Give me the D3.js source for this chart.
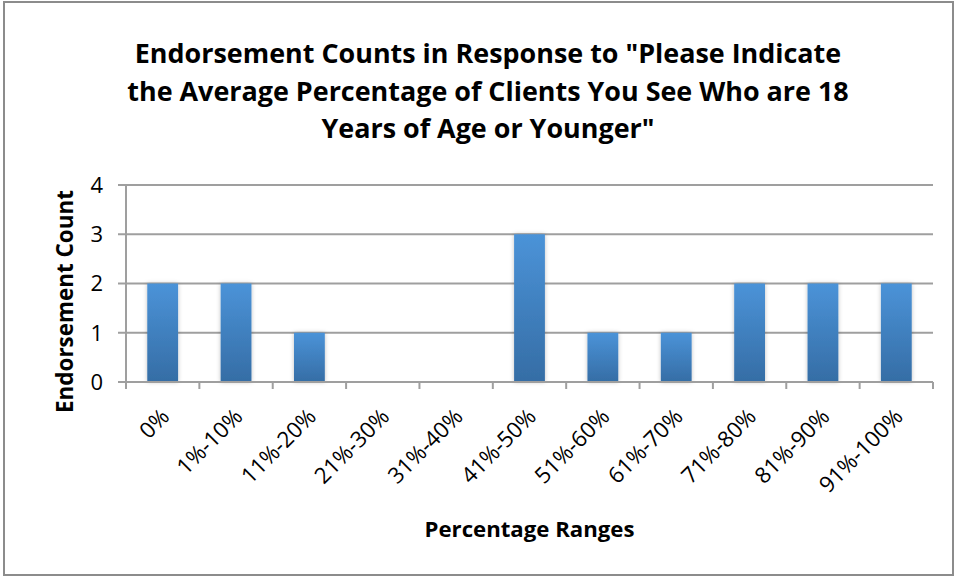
<!DOCTYPE html>
<html>
<head>
<meta charset="utf-8">
<script src="https://cdn.jsdelivr.net/npm/d3@7"></script>
<style>
  body { margin: 0; background: #fff; }
  svg text { font-family: "Open Sans", Lato, sans-serif; fill: #000; }
</style>
</head>
<body>
<svg class="chart" width="956" height="578"></svg>
<script>
var categories = ["0%", "1%-10%", "11%-20%", "21%-30%", "31%-40%", "41%-50%",
                  "51%-60%", "61%-70%", "71%-80%", "81%-90%", "91%-100%"];
var counts = [2, 2, 1, 0, 0, 3, 1, 1, 2, 2, 2];
var yTicks = [0, 1, 2, 3, 4];
var titleLines = ["Endorsement Counts in Response to \"Please Indicate",
                  "the Average Percentage of Clients You See Who are 18",
                  "Years of Age or Younger\""];

var svg = d3.select("svg.chart"),
    width = +svg.attr("width"),
    height = +svg.attr("height");

var margin = { left: 126, right: 23, top: 185, bottom: 196 };

// scale a text's font so its length matches what the picture shows
function fontFor(sel, target) {
    var node = sel.node();
    var fs = parseFloat(sel.style("font-size"));
    return fs * target / node.getComputedTextLength();
}

// outer frame
svg.append("rect")
    .attr("x", 4).attr("y", 2)
    .attr("width", 949).attr("height", 573)
    .attr("fill", "#fff")
    .attr("stroke", "#8c8c8c")
    .attr("stroke-width", 2);

var defs = svg.append("defs");
var grad = defs.append("linearGradient")
    .attr("id", "barGrad")
    .attr("x1", 0).attr("y1", 0).attr("x2", 0).attr("y2", 1);
grad.append("stop").attr("offset", "0%").attr("stop-color", "#4b93d8");
grad.append("stop").attr("offset", "100%").attr("stop-color", "#356da5");

var filter = defs.append("filter").attr("id", "shadow")
    .attr("x", "-30%").attr("y", "-10%").attr("width", "160%").attr("height", "120%");
filter.append("feDropShadow")
    .attr("dx", 0).attr("dy", 0).attr("stdDeviation", 2)
    .attr("flood-color", "#000").attr("flood-opacity", 0.25);

var x = d3.scaleBand()
    .domain(categories)
    .range([margin.left, width - margin.right])
    .paddingInner(0.58)
    .paddingOuter(0.29);

var y = d3.scaleLinear()
    .domain([0, 4])
    .range([height - margin.bottom, margin.top]);

// gridlines
svg.append("g")
    .selectAll("line")
    .data(yTicks.slice(1))
    .enter().append("line")
    .attr("x1", margin.left - 8)
    .attr("x2", width - margin.right)
    .attr("y1", function (d) { return y(d); })
    .attr("y2", function (d) { return y(d); })
    .attr("stroke", "#9f9f9f")
    .attr("stroke-width", 2);

// y axis line + labels
svg.append("line")
    .attr("x1", margin.left).attr("x2", margin.left)
    .attr("y1", y(4)).attr("y2", y(0))
    .attr("stroke", "#9f9f9f").attr("stroke-width", 2);

svg.append("g")
    .selectAll("text")
    .data(yTicks)
    .enter().append("text")
    .attr("x", 103)
    .attr("y", function (d) { return y(d); })
    .attr("dy", "0.36em")
    .attr("text-anchor", "end")
    .style("font-size", "22px")
    .text(function (d) { return d; });

// bars
svg.append("g")
    .selectAll("rect")
    .data(counts)
    .enter().append("rect")
    .attr("x", function (d, i) { return x(categories[i]); })
    .attr("y", function (d) { return y(d); })
    .attr("width", x.bandwidth())
    .attr("height", function (d) { return y(0) - y(d); })
    .attr("fill", "url(#barGrad)")
    .attr("filter", "url(#shadow)");

// x axis line and ticks
var step = x.step();
var x0 = margin.left;
svg.append("line")
    .attr("x1", margin.left - 8).attr("x2", width - margin.right)
    .attr("y1", y(0)).attr("y2", y(0))
    .attr("stroke", "#9f9f9f").attr("stroke-width", 2);

svg.append("g")
    .selectAll("line")
    .data(d3.range(categories.length + 1))
    .enter().append("line")
    .attr("x1", function (i) { return x0 + i * step; })
    .attr("x2", function (i) { return x0 + i * step; })
    .attr("y1", y(0)).attr("y2", y(0) + 7)
    .attr("stroke", "#9f9f9f").attr("stroke-width", 2);

// rotated category labels
var labels = svg.append("g")
    .selectAll("text")
    .data(categories)
    .enter().append("text")
    .attr("transform", function (d) {
        return "translate(" + (x(d) + x.bandwidth() / 2 + 8) + "," + (y(0) + 36) + ") rotate(-45)";
    })
    .attr("text-anchor", "end")
    .style("font-size", "18px")
    .text(function (d) { return d; });
var labelSize = fontFor(labels.filter(function (d) { return d === "1%-10%"; }), 82);
labels.style("font-size", labelSize + "px");

// titles
var title = svg.append("g")
    .selectAll("text")
    .data(titleLines)
    .enter().append("text")
    .attr("x", 488)
    .attr("y", function (d, i) { return 63 + i * 37.5; })
    .attr("text-anchor", "middle")
    .style("font-size", "24px")
    .style("font-weight", "bold")
    .text(function (d) { return d; });
var titleSize = fontFor(title.filter(function (d, i) { return i === 1; }), 722);
title.style("font-size", titleSize + "px");

var yTitle = svg.append("text")
    .attr("transform", "translate(73,301.5) rotate(-90)")
    .attr("text-anchor", "middle")
    .style("font-size", "20px")
    .style("font-weight", "bold")
    .text("Endorsement Count");
yTitle.style("font-size", fontFor(yTitle, 223) + "px");

var xTitle = svg.append("text")
    .attr("x", (margin.left + width - margin.right) / 2)
    .attr("y", 537)
    .attr("text-anchor", "middle")
    .style("font-size", "20px")
    .style("font-weight", "bold")
    .text("Percentage Ranges");
xTitle.style("font-size", fontFor(xTitle, 210) + "px");
</script>
</body>
</html>
